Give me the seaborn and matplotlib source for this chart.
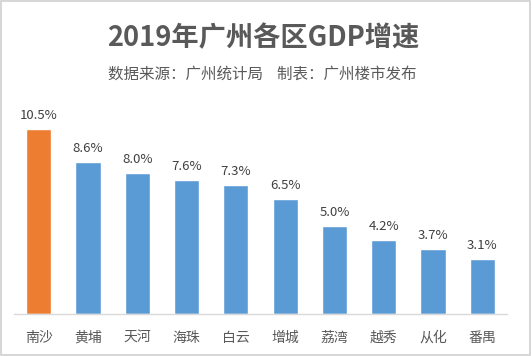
import matplotlib
matplotlib.use('Agg')
import matplotlib.pyplot as plt
import seaborn as sns
import pandas as pd
from matplotlib.patches import Rectangle

# data
districts = ['南沙', '黄埔', '天河', '海珠', '白云', '增城', '荔湾', '越秀', '从化', '番禺']
growth = [10.5, 8.6, 8.0, 7.6, 7.3, 6.5, 5.0, 4.2, 3.7, 3.1]
bar_colors = ['#ED7D31'] + ['#5B9BD5'] * 9

sns.set_theme(style='white')
plt.rcParams['font.family'] = ['Noto Sans CJK SC', 'DejaVu Sans']

df = pd.DataFrame({'district': districts, 'growth': growth})

fig = plt.figure(figsize=(5.32, 3.56), dpi=100)
W, H = 532, 356
ax = fig.add_axes([14 / W, 1 - 314 / H, 493 / W, 212 / H])

sns.barplot(data=df, x='district', y='growth', hue='district', palette=bar_colors,
            width=0.51, legend=False, ax=ax, saturation=1)

ax.set_xlim(-0.5, 9.5)
ax.set_ylim(0, 12)
ax.set_xlabel('')
ax.set_ylabel('')
ax.set_yticks([])
for s in ['top', 'right', 'left']:
    ax.spines[s].set_visible(False)
ax.spines['bottom'].set_color('#D9D9D9')
ax.spines['bottom'].set_linewidth(1)
ax.tick_params(axis='x', length=0, pad=12, labelsize=10, labelcolor='#595959')

for i, v in enumerate(growth):
    ax.annotate(f'{v:.1f}%', (i, v), xytext=(0, 5), textcoords='offset points',
                ha='center', va='bottom', fontsize=9.5, color='#404040')

fig.text(263 / W, 1 - 38 / H, '2019年广州各区GDP增速', ha='center', va='center',
         fontsize=19.6, fontweight='bold', color='#595959')
fig.text(262 / W, 1 - 74 / H, '数据来源：广州统计局    制表：广州楼市发布', ha='center', va='center',
         fontsize=11.2, color='#595959')

fig.patches.append(Rectangle((0.002, 0.003), 0.995, 0.994, transform=fig.transFigure,
                             fill=False, edgecolor='#D0D0D0', linewidth=1.2))

fig.savefig('out.png', dpi=100)
